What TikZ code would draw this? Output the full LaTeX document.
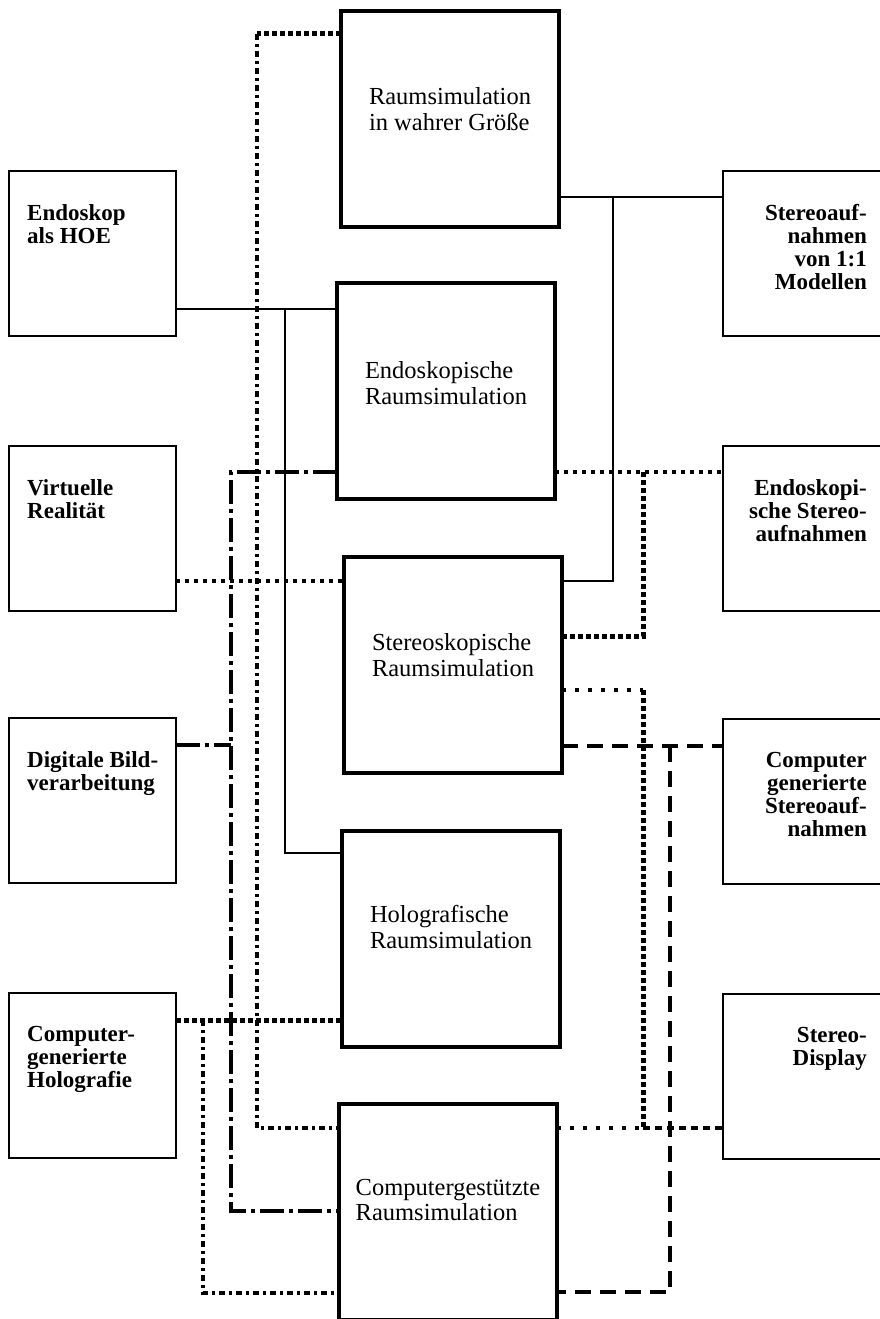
\documentclass[tikz,border=0pt]{standalone}
\usepackage{fontspec}
\setmainfont{Liberation Serif}
\usetikzlibrary{positioning}

\begin{document}
\begin{tikzpicture}[
    x=1pt, y=-1pt,
    sidebox/.style={
        draw,
        rectangle,
        line width=2pt,
        outer sep=0pt,
        minimum width=167pt,
        minimum height=165pt
    },
    simbox/.style={
        draw,
        rectangle,
        line width=4.5pt,
        outer sep=0pt,
        minimum width=218pt,
        minimum height=216pt
    },
    simtext/.style={align=left, inner sep=0pt, font=\fontsize{24.5}{25.5}\selectfont},
    sidetext/.style={inner sep=0pt, font=\bfseries\fontsize{23}{23}\selectfont},
    solidlink/.style={line width=1.6pt},
    dotlink/.style={line width=3.5pt, dash pattern=on 3.5pt off 5.5pt},
    loosedot/.style={line width=3.5pt, dash pattern=on 3.5pt off 9.5pt},
    heavydot/.style={line width=5pt, dash pattern=on 5pt off 3pt},
    ddotlink/.style={line width=3.5pt, dash pattern=on 6pt off 4pt on 3pt off 4pt},
    dashdotlink/.style={line width=3.5pt, dash pattern=on 24pt off 5pt on 4pt off 5pt},
    longdash/.style={line width=3.5pt, dash pattern=on 16pt off 9pt},
    shortdash/.style={line width=3.5pt, dash pattern=on 7pt off 5pt}
]
\useasboundingbox (0,0) rectangle (879,1319);

% left column
\node[sidebox, anchor=north west] (hoe) at (9,171) {};
\node[sidebox, below=110pt of hoe] (vr) {};
\node[sidebox, below=107pt of vr] (dbv) {};
\node[sidebox, below=110pt of dbv] (chol) {};

% right column (runs off the page edge)
\node[sidebox, minimum width=170pt, anchor=north west] (s11) at (723,171) {};
\node[sidebox, minimum width=170pt, below=110pt of s11] (es) {};
\node[sidebox, minimum width=170pt, below=108pt of es] (cgs) {};
\node[sidebox, minimum width=170pt, below=110pt of cgs] (sd) {};

% simulation boxes
\node[simbox, anchor=north west] (raum) at (341,11) {};
\node[simbox, anchor=north west] (endo) at (337,283) {};
\node[simbox, anchor=north west] (stereo) at (344,557) {};
\node[simbox, anchor=north west] (holo) at (342,831) {};
\node[simbox, anchor=north west] (cg) at (339,1104) {};

\node[simtext] (raum-t) at ([yshift=10pt]raum.center) {Raumsimulation\\in wahrer Größe};
\node[simtext] (endo-t) at ([yshift=8pt]endo.center) {Endoskopische\\Raumsimulation};
\node[simtext] (stereo-t) at ([yshift=10pt]stereo.center) {Stereoskopische\\Raumsimulation};
\node[simtext] (holo-t) at ([yshift=12pt]holo.center) {Holografische\\Raumsimulation};
\node[simtext] (cg-t) at ([yshift=12pt]cg.center) {Computergestützte\\Raumsimulation};

\node[sidetext, align=left, anchor=north west] (hoe-t) at ([xshift=18pt,yshift=-33pt]hoe.north west) {Endoskop\\als HOE};
\node[sidetext, align=left, anchor=north west] (vr-t) at ([xshift=18pt,yshift=-33pt]vr.north west) {Virtuelle\\Realität};
\node[sidetext, align=left, anchor=north west] (dbv-t) at ([xshift=18pt,yshift=-33pt]dbv.north west) {Digitale Bild-\\verarbeitung};
\node[sidetext, align=left, anchor=north west] (chol-t) at ([xshift=18pt,yshift=-33pt]chol.north west) {Computer-\\generierte\\Holografie};

\node[sidetext, align=right, anchor=north east] (s11-t) at ([xshift=144pt,yshift=-33pt]s11.north west) {Stereoauf-\\nahmen\\von 1:1\\Modellen};
\node[sidetext, align=right, anchor=north east] (es-t) at ([xshift=144pt,yshift=-33pt]es.north west) {Endoskopi-\\sche Stereo-\\aufnahmen};
\node[sidetext, align=right, anchor=north east] (cgs-t) at ([xshift=144pt,yshift=-33pt]cgs.north west) {Computer\\generierte\\Stereoauf-\\nahmen};
\node[sidetext, align=right, anchor=north east] (sd-t) at ([xshift=144pt,yshift=-33pt]sd.north west) {Stereo-\\Display};

% solid links
\coordinate (hoe-j) at (285,309);
\draw[solidlink] (hoe.east |- hoe-j) -- (endo.west |- hoe-j);
\draw[solidlink] (hoe-j) |- (holo.west |- 0,853);

\coordinate (s11-j) at (613,197);
\draw[solidlink] (raum.east |- s11-j) -- (s11.west |- s11-j);
\draw[solidlink] (s11-j) |- (stereo.east |- 0,581);

% wahre Groesse down to the computer box
\coordinate (raum-j) at (257,34);
\draw[heavydot] (raum.west |- raum-j) -- (raum-j);
\draw[ddotlink] (raum-j) |- (cg.west |- 0,1128);

% endoskopisch, with the Bildverarbeitung branch
\coordinate (endo-j) at (231,472);
\draw[dashdotlink] (endo.west |- endo-j) -- (endo-j) |- (cg.west |- 0,1211);
\draw[dashdotlink] (dbv.east |- 0,745) -- (endo-j |- 0,745);

\draw[dotlink] (vr.east |- 0,581) -- (stereo.west |- 0,581);

\coordinate (es-j) at (643,472);
\draw[dotlink] (endo.east |- es-j) -- (es.west |- es-j);
\draw[heavydot] (es-j) |- (stereo.east |- 0,636);

% stereo display loop
\coordinate (st-j) at (643,690);
\coordinate (sd-j) at (643,1128);
\draw[loosedot] (stereo.east |- st-j) -- (st-j);
\draw[heavydot] (st-j) -- (sd-j);
\draw[loosedot] (cg.east |- sd-j) -- (sd-j);
\draw[shortdash] (sd-j) -- (sd.west |- sd-j);

\coordinate (cgs-j) at (670,746);
\draw[longdash] (stereo.east |- cgs-j) -- (cgs.west |- cgs-j);
\draw[longdash] (cgs-j) |- (cg.east |- 0,1292);

% Holografie
\coordinate (chol-j) at (203,1020);
\draw[heavydot] (chol.east |- chol-j) -- (holo.west |- chol-j);
\draw[ddotlink] (chol-j) |- (cg.west |- 0,1293);

\end{tikzpicture}
\end{document}
